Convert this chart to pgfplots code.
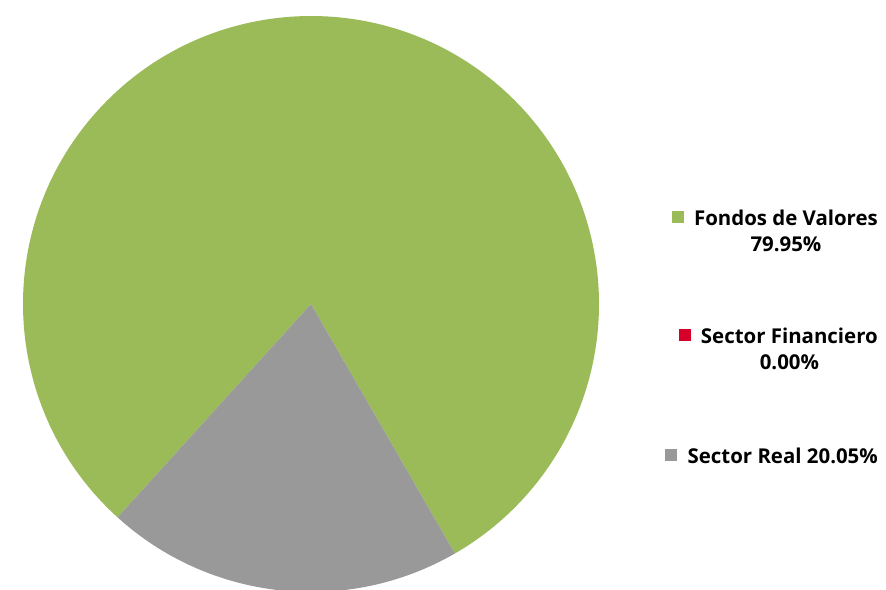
\documentclass[border=0pt]{standalone}
\usepackage{fontspec}
\setmainfont{Open Sans}
\usepackage{pgfplots}
\usepackage{pgfplotstable}
\pgfplotsset{compat=1.18}
\usetikzlibrary{calc}
\definecolor{fondos}{RGB}{155,187,89}
\definecolor{financ}{RGB}{214,0,42}
\definecolor{real}{RGB}{153,153,153}
\pgfplotstableread{
cat value
Fondos 79.95
Financiero 0.00
Real 20.05
}\piedata
\begin{document}
\begin{tikzpicture}
\clip (0,0) rectangle (886bp,590bp);
\begin{axis}[at={(0,0)},anchor=south west,width=886bp,height=590bp,scale only axis,
  xmin=0,xmax=886,ymin=0,ymax=590,y dir=reverse,hide axis,clip=false]
\pgfplotstablegetelem{0}{value}\of\piedata \edef\vA{\pgfplotsretval}
\pgfplotstablegetelem{1}{value}\of\piedata \edef\vB{\pgfplotsretval}
\pgfplotstablegetelem{2}{value}\of\piedata \edef\vC{\pgfplotsretval}
\pgfmathsetmacro\sA{-132.2}
\pgfmathsetmacro\eA{\sA-3.6*\vA}
\pgfmathsetmacro\eB{\eA-3.6*\vB}
\pgfmathsetmacro\eC{\eB-3.6*\vC}
\fill[fondos] (axis cs:311,304) -- ++(\sA:288bp) arc[start angle=\sA, end angle=\eA, radius=288bp] -- cycle;
\fill[real] (axis cs:311,304) -- ++(\eB:288bp) arc[start angle=\eB, end angle=\eC, radius=288bp] -- cycle;
\node[anchor=base east, inner sep=0pt, font=\fontsize{20.5}{27}\selectfont\bfseries] (t1) at (axis cs:878,225) {\begin{tabular}[t]{@{}c@{}}Fondos de Valores\\79.95\%\end{tabular}};
\node[anchor=base east, inner sep=0pt, font=\fontsize{20.5}{27}\selectfont\bfseries] (t2) at (axis cs:878,343) {\begin{tabular}[t]{@{}c@{}}Sector Financiero\\0.00\%\end{tabular}};
\node[anchor=base east, inner sep=0pt, font=\fontsize{20.5}{27}\selectfont\bfseries] (t3) at (axis cs:878,463) {\begin{tabular}[t]{@{}c@{}}Sector Real 20.05\%\end{tabular}};
\fill[fondos] ($(t1.base west)+(-10bp,2bp)$) rectangle ++(-12bp,12bp);
\fill[financ] ($(t2.base west)+(-10bp,2bp)$) rectangle ++(-12bp,12bp);
\fill[real] ($(t3.base west)+(-10bp,2bp)$) rectangle ++(-12bp,12bp);
\end{axis}
\end{tikzpicture}
\end{document}
